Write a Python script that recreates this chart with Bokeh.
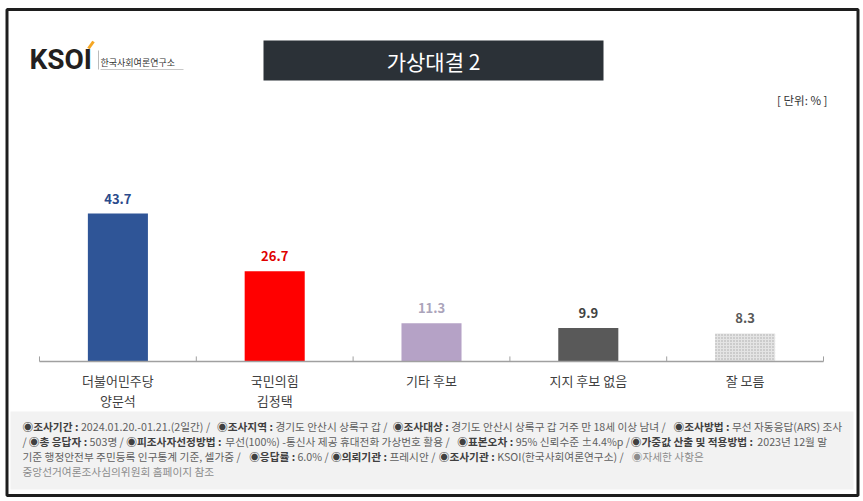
from bokeh.plotting import figure
from bokeh.models import Range1d, FactorRange, ColumnDataSource
from bokeh.core.properties import value
from bokeh.embed import file_html
from bokeh.resources import INLINE

# ---- data ----
categories = ["더불어민주당 양문석", "국민의힘 김정택", "기타 후보", "지지 후보 없음", "잘 모름"]
category_labels = ["더불어민주당\n양문석", "국민의힘\n김정택", "기타 후보", "지지 후보 없음", "잘 모름"]
values = [43.7, 26.7, 11.3, 9.9, 8.3]
value_labels = ["43.7", "26.7", "11.3", "9.9", "8.3"]
bar_colors = ["#2f5597", "#ff0000", "#b5a2c6", "#595959", "#e4e4e4"]
label_colors = ["#2b4a8b", "#e00000", "#aba4ba", "#404040", "#595959"]
hatches = [" ", " ", " ", " ", "."]

title_text = "가상대결 2"
unit_text = "[ 단위: % ]"

footer_lines = [
    [("b", "◉조사기간 : "), ("n", "2024.01.20.-01.21.(2일간)   / "), ("b", "◉조사지역 : "),
     ("n", "경기도 안산시 상록구 갑 / "), ("b", "◉조사대상 : "),
     ("n", "경기도 안산시 상록구 갑 거주 만 18세 이상 남녀 / "), ("b", "◉조사방법 : "),
     ("n", "무선 자동응답(ARS) 조사")],
    [("n", "/ "), ("b", "◉총 응답자 : "), ("n", "503명 / "), ("b", "◉피조사자선정방법 : "),
     ("n", "무선(100%) -통신사 제공 휴대전화 가상번호 활용 / "), ("b", "◉표본오차 : "),
     ("n", "95% 신뢰수준 ±4.4%p / "), ("b", "◉가중값 산출 및 적용방법 : "), ("n", "2023년 12월 말")],
    [("n", "기준 행정안전부 주민등록 인구통계 기준, 셀가중 / "), ("b", "◉응답률 : "), ("n", "6.0% / "),
     ("b", "◉의뢰기관 : "), ("n", "프레시안 / "), ("b", "◉조사기관 : "),
     ("n", "KSOI(한국사회여론연구소) / "), ("l", "◉자세한 사항은")],
    [("l", "중앙선거여론조사심의위원회 홈페이지 참조")],
]

FONT = "Noto Sans CJK KR"
W, H = 862, 500
PAD = 0.2487
Y0, Y1 = -41.06, 106.65

p = figure(width=W, height=H, output_backend="svg", toolbar_location=None,
           x_range=FactorRange(factors=categories, range_padding=PAD,
                               range_padding_units="absolute"),
           y_range=Range1d(Y0, Y1),
           x_axis_location=None, y_axis_location=None, min_border=0)
p.outline_line_color = None
p.grid.visible = False
p.background_fill_color = "white"
p.border_fill_color = "white"

NX = len(categories) + 2 * PAD


def sx(px):  # canvas pixel -> synthetic x
    return -PAD + px * NX / W


def sy(py):  # canvas pixel (from top) -> value units
    return Y1 - py * (Y1 - Y0) / H


src = ColumnDataSource(dict(cat=categories, lab=category_labels, val=values, vl=value_labels,
                            bc=bar_colors, lc=label_colors, hp=hatches))

p.vbar(x="cat", top="val", bottom=0, width=0.383, source=src, fill_color="bc",
       line_color=None, hatch_pattern="hp", hatch_color="#a8a8a8", hatch_scale=3,
       hatch_weight=1)

# baseline + separators
n = len(categories)
p.segment(x0=[0], x1=[n], y0=[0], y1=[0], line_color="#a0a0a0", line_width=1.5)
p.segment(x0=list(range(n + 1)), x1=list(range(n + 1)), y0=[0] * (n + 1), y1=[1.5] * (n + 1),
          line_color="#a0a0a0", line_width=1)

p.text(x="cat", y="val", text="vl", source=src,
       y_offset=-15, text_align="center", text_baseline="middle", text_color="lc",
       text_font=value(FONT), text_font_style="bold", text_font_size="13px")
p.text(x="cat", y=0, text="lab", source=src,
       y_offset=9, text_align="center", text_baseline="top", text_color="#404040",
       text_font=value(FONT), text_font_size="13px", text_line_height=1.1)

# header
p.quad(left=[sx(263)], right=[sx(603)], top=[sy(40)], bottom=[sy(80)],
       fill_color="#2b3137", line_color=None)
p.text(x=[sx(433)], y=[sy(60)], text=[title_text], text_align="center", text_baseline="middle",
       text_color="white", text_font=value(FONT), text_font_size="21px")
p.text(x=[sx(827)], y=[sy(99)], text=[unit_text], text_align="right", text_baseline="middle",
       text_color="#333333", text_font=value(FONT), text_font_size="11.5px")

# logo
p.text(x=[sx(29)], y=[sy(59)], text=["KSOI"], text_align="left", text_baseline="middle",
       text_color="#231f20", text_font=value("Roboto"), text_font_style="bold",
       text_font_size="28px")
p.segment(x0=[sx(88)], y0=[sy(48)], x1=[sx(93)], y1=[sy(41)], line_color="#f5a623", line_width=3)
p.segment(x0=[sx(98)], y0=[sy(50)], x1=[sx(98)], y1=[sy(69)], line_color="#bbbbbb", line_width=1)
p.text(x=[sx(100)], y=[sy(62)], text=["한국사회여론연구소"], text_align="left", text_baseline="middle",
       text_color="#333333", text_font=value(FONT), text_font_size="9px")
p.segment(x0=[sx(100)], y0=[sy(69)], x1=[sx(183)], y1=[sy(69)], line_color="#c8c8c8", line_width=1)

# footer
p.quad(left=[sx(10)], right=[sx(853)], top=[sy(411)], bottom=[sy(489)],
       fill_color="#f2f2f2", line_color=None)


def cw(ch, s, bold):
    o = ord(ch)
    if 0xAC00 <= o <= 0xD7A3 or ch == "◉":
        w = 0.95
    elif ch.isdigit():
        w = 0.57 if bold else 0.555
    elif ch == " ":
        w = 0.22
    elif ch in ".,:":
        w = 0.27
    elif ch in "()":
        w = 0.33
    elif ch == "/":
        w = 0.37
    elif ch == "-":
        w = 0.34
    elif ch == "%":
        w = 0.95
    elif ch == "±":
        w = 0.75
    elif ch.isupper():
        w = 0.64
    else:
        w = 0.57
    return w * s


line1_em = sum(cw(c, 1.0, k == "b") for k, t in footer_lines[0] for c in t)
FS = round(min(11.0, max(9.0, 820.0 / line1_em)), 1)

xs, ys, ts, cs, st = [], [], [], [], []
for i, line in enumerate(footer_lines):
    x = 22
    y = 426 + i * 15
    for kind, t in line:
        xs.append(sx(x))
        ys.append(sy(y))
        ts.append(t)
        cs.append({"b": "#404040", "n": "#5f5f5f", "l": "#8c8c8c"}[kind])
        st.append("bold" if kind == "b" else "normal")
        x += sum(cw(c, FS, kind == "b") for c in t)
fsrc = ColumnDataSource(dict(x=xs, y=ys, t=ts, c=cs, s=st))
p.text(x="x", y="y", text="t", source=fsrc, text_align="left", text_baseline="middle",
       text_color="c", text_font_style="s", text_font=value(FONT), text_font_size=f"{FS}px")

# outer frame
p.quad(left=[sx(6.5)], right=[sx(857.5)], top=[sy(9)], bottom=[sy(495)], fill_color=None,
       line_color="#1e1e1e", line_width=3)

open("out.html", "w").write(file_html(p, INLINE))
